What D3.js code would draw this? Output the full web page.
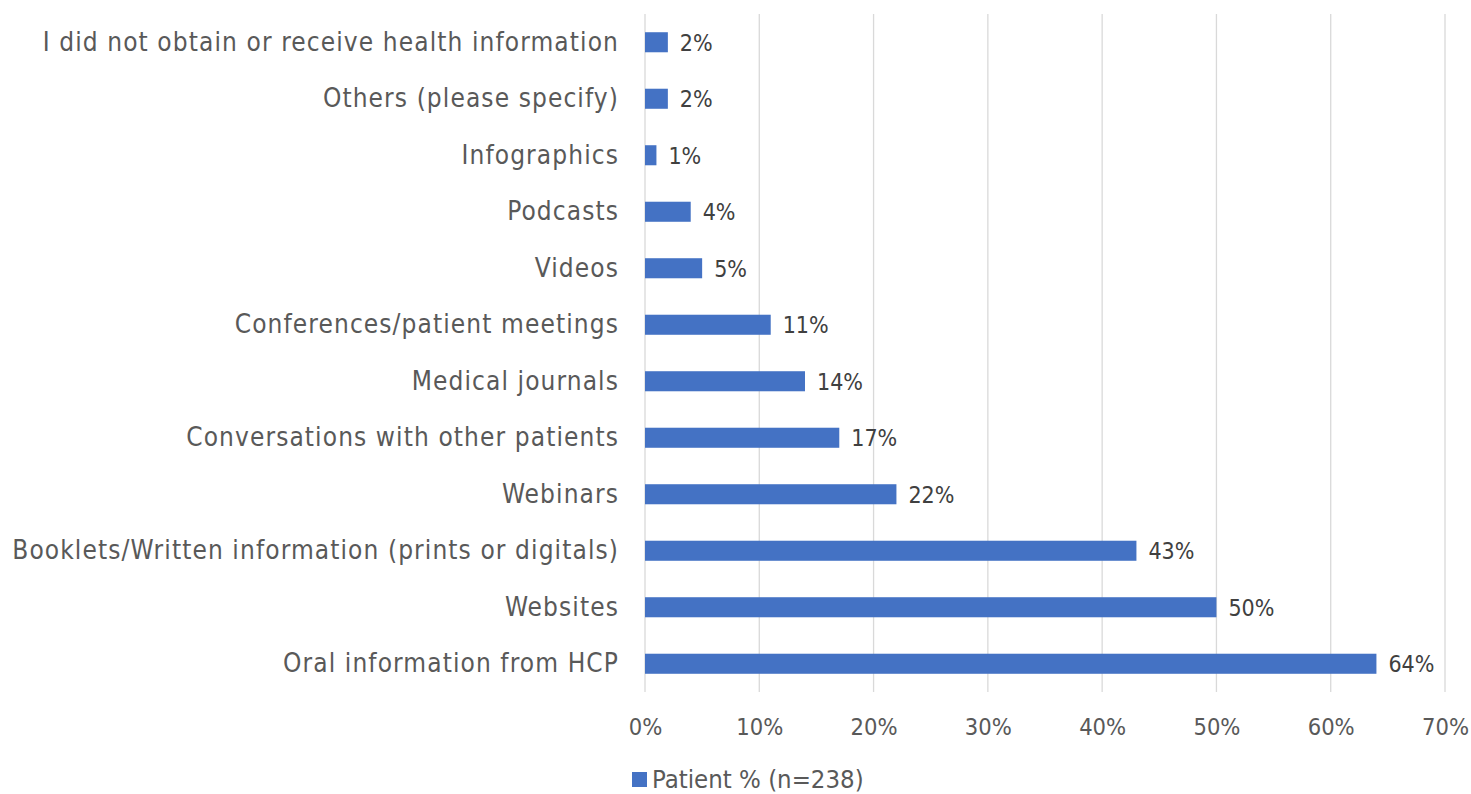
<!DOCTYPE html>
<html>
<head>
<meta charset="utf-8">
<script src="https://cdn.jsdelivr.net/npm/d3@7"></script>
<style>
  html, body { margin: 0; padding: 0; background: #fff; }
  svg text { font-family: "DejaVu Sans Condensed", "DejaVu Sans", sans-serif; }
</style>
</head>
<body>
<svg id="chart" width="1471" height="794"></svg>
<script>
// Sources of health information, top to bottom
const categories = [
  "I did not obtain or receive health information",
  "Others (please specify)",
  "Infographics",
  "Podcasts",
  "Videos",
  "Conferences/patient meetings",
  "Medical journals",
  "Conversations with other patients",
  "Webinars",
  "Booklets/Written information (prints or digitals)",
  "Websites",
  "Oral information from HCP"
];
const values = [2, 2, 1, 4, 5, 11, 14, 17, 22, 43, 50, 64];
const xTicks = [0, 10, 20, 30, 40, 50, 60, 70];
const seriesName = "Patient % (n=238)";

const svg = d3.select("#chart");
const margin = { top: 14, right: 26, bottom: 102, left: 645 };
const W = 1471, H = 794;
const innerW = W - margin.left - margin.right;
const innerH = H - margin.top - margin.bottom;
const fontFamily = "\"DejaVu Sans Condensed\", \"DejaVu Sans\", sans-serif";

const x = d3.scaleLinear().domain([0, 70]).range([margin.left, margin.left + innerW]);
const y = d3.scaleBand().domain(categories).range([margin.top, margin.top + innerH]).paddingInner(0.645).paddingOuter(0.3225);

const barColor = "#4472C4";

// vertical gridlines
svg.append("g")
  .selectAll("line")
  .data(xTicks)
  .join("line")
  .attr("x1", d => x(d)).attr("x2", d => x(d))
  .attr("y1", margin.top).attr("y2", margin.top + innerH)
  .attr("stroke", "#D9D9D9").attr("stroke-width", 1.3);

// x tick labels
const xAxis = d3.axisBottom(x).tickValues(xTicks).tickFormat(d => d + "%").tickSize(0).tickPadding(0);
const gx = svg.append("g").attr("transform", `translate(0,${margin.top + innerH})`).call(xAxis);
gx.select(".domain").remove();
gx.selectAll("text")
  .attr("dy", null)
  .attr("y", 43)
  .attr("fill", "#595959")
  .attr("font-size", 23.5)
  .style("font-family", fontFamily);

// category labels
const yAxis = d3.axisLeft(y).tickSize(0).tickPadding(26);
const gy = svg.append("g").attr("transform", `translate(${margin.left},0)`).call(yAxis);
gy.select(".domain").remove();
gy.selectAll("text")
  .attr("fill", "#595959")
  .attr("font-size", 26)
  .style("letter-spacing", "1.1px")
  .style("font-family", fontFamily);

// bars
svg.append("g")
  .selectAll("rect")
  .data(categories)
  .join("rect")
  .attr("x", x(0))
  .attr("y", d => y(d))
  .attr("width", (d, i) => x(values[i]) - x(0))
  .attr("height", y.bandwidth())
  .attr("fill", barColor);

// value labels
svg.append("g")
  .selectAll("text")
  .data(categories)
  .join("text")
  .attr("x", (d, i) => x(values[i]) + 12)
  .attr("y", d => y(d) + y.bandwidth() / 2)
  .attr("dy", "0.36em")
  .attr("fill", "#404040")
  .attr("font-size", 23)
  .text((d, i) => values[i] + "%");

// legend
const lg = svg.append("g").attr("transform", "translate(632,772)");
lg.append("rect").attr("width", 15).attr("height", 15).attr("fill", barColor);
lg.append("text").attr("x", 20).attr("y", 7.5).attr("dy", "0.35em")
  .attr("fill", "#595959").attr("font-size", 25.5).text(seriesName);
</script>
</body>
</html>
